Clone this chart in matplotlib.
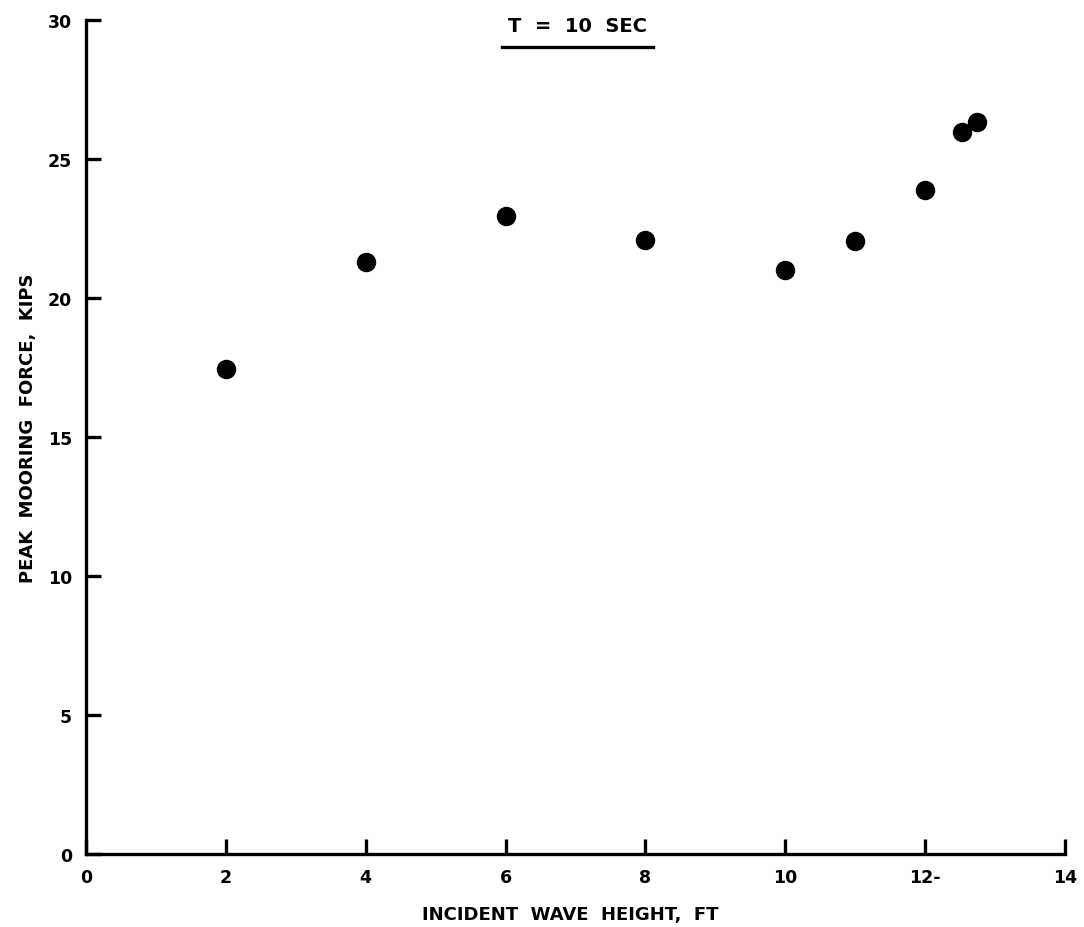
import matplotlib
matplotlib.use("Agg")
import matplotlib.pyplot as plt
from matplotlib.lines import Line2D

wave_height = [2, 4, 6, 8, 10, 11, 12, 12.53, 12.74]
peak_force = [17.45, 21.3, 22.95, 22.1, 21.0, 22.05, 23.9, 25.97, 26.34]
x_ticks = [0, 2, 4, 6, 8, 10, 12, 14]
x_tick_labels = ["0", "2", "4", "6", "8", "10", "12-", "14"]
y_ticks = [0, 5, 10, 15, 20, 25, 30]
title = "T  =  10  SEC"
xlabel = "INCIDENT  WAVE  HEIGHT,  FT"
ylabel = "PEAK  MOORING  FORCE,  KIPS"

plt.rcParams['font.family'] = ['DejaVu Sans']

fig = plt.figure(figsize=(10.84, 9.28), dpi=100)
ax = fig.add_axes([86/1084, 73/928, (1065-86)/1084, (855-21)/928])

ax.plot(wave_height, peak_force, 'o', color='black', markersize=13, clip_on=False)

ax.set_xlim(0, 14)
ax.set_ylim(0, 30)
ax.set_xticks(x_ticks)
ax.set_xticklabels(x_tick_labels)
ax.set_yticks(y_ticks)
for s in ['top', 'right']:
    ax.spines[s].set_visible(False)
for s in ['left', 'bottom']:
    ax.spines[s].set_linewidth(2.4)
    ax.spines[s].set_capstyle('projecting')
ax.tick_params(direction='in', length=11, width=2.4, labelsize=12.5, pad=10)
for lab in ax.get_xticklabels() + ax.get_yticklabels():
    lab.set_fontweight('bold')

ax.set_xlabel(xlabel, fontsize=13, fontweight='bold')
ax.set_ylabel(ylabel, fontsize=13, fontweight='bold')
ax.xaxis.set_label_coords((570.5 - 86) / 979, (855 - 906) / 834)
ax.yaxis.set_label_coords((37 - 86) / 979, (855 - 428.5) / 834)

t = fig.text(577/1084, 1 - 27/928, title, fontsize=14, fontweight='bold',
             ha='center', va='center')
fig.canvas.draw()
bb = t.get_window_extent()
inv = fig.transFigure.inverted()
(x0, y0), (x1, y1) = inv.transform([(bb.x0 - 6, bb.y0 - 11), (bb.x1 + 6, bb.y0 - 11)])
fig.add_artist(Line2D([x0, x1], [y0, y1], transform=fig.transFigure, color='black', linewidth=2.4))

fig.savefig("out.png", dpi=100)
